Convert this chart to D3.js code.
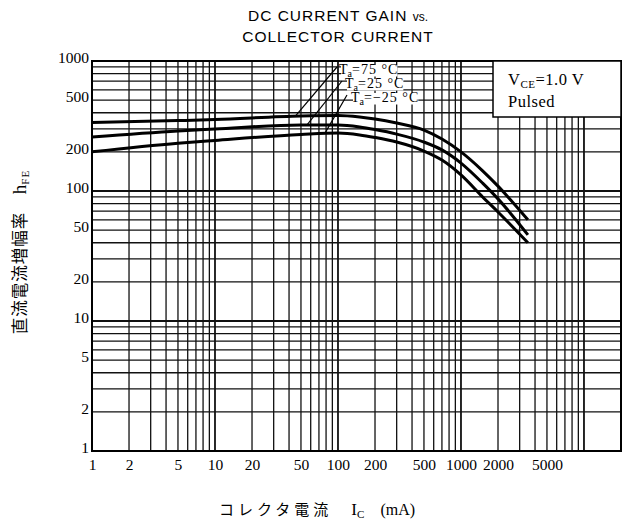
<!DOCTYPE html>
<html>
<head>
<meta charset="utf-8">
<script src="https://cdn.jsdelivr.net/npm/d3@7"></script>
<style>
  body { margin: 0; background: #fff; }
  svg { display: block; }
</style>
</head>
<body>
<svg id="chart" width="631" height="527"></svg>
<script>
// collector current (mA) where the curves were read
const icValues = [1, 5, 10, 50, 100, 150, 200, 300, 500, 700, 1000, 1500, 2000, 3500];
// hFE for each temperature
const hfe75 = [336, 348, 355, 378, 381, 371, 358, 333, 294, 251, 200, 143, 109, 60];
const hfe25 = [260, 290, 300, 322, 322, 311, 297, 274, 238, 207, 164, 115, 87, 46];
const hfeM25 = [200, 233, 245, 272, 279, 270, 258, 238, 203, 173, 133, 90, 69, 40];

const seriesNames = ['75', '25', '−25'];
// where each temperature leader touches its curve (mA)
const leaderAt = [45, 56, 78];

const xTicks = [1, 2, 5, 10, 20, 50, 100, 200, 500, 1000, 2000, 5000];
const yTicks = [1, 2, 5, 10, 20, 50, 100, 200, 500, 1000];

const margin = { top: 61, right: 10, bottom: 76, left: 92 };
const width = 631;
const height = 527;

const svg = d3.select('#chart');

const x = d3.scaleLog().domain([1, 20000]).range([margin.left, width - margin.right]);
const y = d3.scaleLog().domain([1, 1000]).range([height - margin.bottom, margin.top]);

const serif = 'Liberation Serif, DejaVu Serif, serif';

// log paper grid: 1..9 in every decade
const gridX = [];
for (let d = 1; d <= 10000; d *= 10) for (let k = 1; k <= 9; k++) if (d * k <= 20000) gridX.push(d * k);
const gridY = [];
for (let d = 1; d <= 100; d *= 10) for (let k = 1; k <= 9; k++) gridY.push(d * k);
gridY.push(1000);

const isDecade = (d) => Math.abs(Math.log10(d) % 1) < 1e-9;

const grid = svg.append('g').attr('class', 'grid');
grid
  .selectAll('line.v')
  .data(gridX)
  .join('line')
  .attr('class', 'v')
  .attr('x1', (d) => x(d))
  .attr('x2', (d) => x(d))
  .attr('y1', y(1))
  .attr('y2', y(1000))
  .attr('stroke', '#111')
  .attr('stroke-width', (d) => (isDecade(d) ? 1.8 : 1.3));

grid
  .selectAll('line.h')
  .data(gridY)
  .join('line')
  .attr('class', 'h')
  .attr('x1', x(1))
  .attr('x2', x(20000))
  .attr('y1', (d) => y(d))
  .attr('y2', (d) => y(d))
  .attr('stroke', '#111')
  .attr('stroke-width', (d) => (isDecade(d) ? 1.8 : 1.3));

// frame
svg
  .append('rect')
  .attr('x', x(1))
  .attr('y', y(1000))
  .attr('width', x(20000) - x(1))
  .attr('height', y(1) - y(1000))
  .attr('fill', 'none')
  .attr('stroke', '#000')
  .attr('stroke-width', 2);

// axes (labels only)
const xAxis = svg
  .append('g')
  .attr('transform', `translate(0,${y(1)})`)
  .call(d3.axisBottom(x).tickValues(xTicks).tickFormat(d3.format('d')).tickSize(0).tickPadding(8));
const yAxis = svg
  .append('g')
  .attr('transform', `translate(${x(1)},0)`)
  .call(d3.axisLeft(y).tickValues(yTicks).tickFormat(d3.format('d')).tickSize(0).tickPadding(3));
[xAxis, yAxis].forEach((g) => {
  g.select('.domain').remove();
  g.selectAll('text').attr('font-family', serif).attr('font-size', 15.5).attr('fill', '#000');
});
yAxis.selectAll('text').attr('dy', '0.1em');

// curves
const line = d3
  .line()
  .x((d) => x(d[0]))
  .y((d) => y(d[1]))
  .curve(d3.curveMonotoneX);

const series = [hfe75, hfe25, hfeM25].map((vals) => icValues.map((ic, i) => [ic, vals[i]]));

svg
  .append('g')
  .attr('class', 'curves')
  .selectAll('path')
  .data(series)
  .join('path')
  .attr('d', line)
  .attr('fill', 'none')
  .attr('stroke', '#000')
  .attr('stroke-width', 3);

// value of a curve at ic, log-log interpolation
const valueAt = (vals, ic) => {
  const lx = icValues.map(Math.log10);
  const i = Math.max(1, d3.bisectLeft(lx, Math.log10(ic)));
  const t = (Math.log10(ic) - lx[i - 1]) / (lx[i] - lx[i - 1]);
  return 10 ** (Math.log10(vals[i - 1]) + t * (Math.log10(vals[i]) - Math.log10(vals[i - 1])));
};

// temperature labels + leaders
const labelPos = [
  [339, 74, 337, 67],
  [345, 88, 342, 81],
  [351, 102, 347, 95]
];
const ann = svg.append('g').attr('class', 'temps');
// white backing under each label line, then leaders, then the texts
const backs = ann.append('g');
[hfe75, hfe25, hfeM25].forEach((vals, i) => {
  const [tx, ty, lx, ly] = labelPos[i];
  ann
    .append('line')
    .attr('x1', lx)
    .attr('y1', ly)
    .attr('x2', x(leaderAt[i]))
    .attr('y2', y(valueAt(vals, leaderAt[i])))
    .attr('stroke', '#000')
    .attr('stroke-width', 1.2);
});
const texts = [];
[hfe75, hfe25, hfeM25].forEach((vals, i) => {
  const [tx, ty] = labelPos[i];
  const t = ann
    .append('text')
    .attr('x', tx)
    .attr('y', ty)
    .attr('font-family', serif)
    .attr('font-size', 14)
    .attr('fill', '#000');
  t.append('tspan').text('T');
  t.append('tspan').attr('dy', 2.5).attr('font-size', 10).text('a');
  t.append('tspan').attr('dy', -2.5).attr('letter-spacing', 1).text(`=${seriesNames[i]}  °C`);
  texts.push(t);
});
texts.forEach((t) => {
  const b = t.node().getBBox();
  backs
    .append('rect')
    .attr('x', b.x + 2)
    .attr('y', b.y + 3)
    .attr('width', b.width - 3)
    .attr('height', b.height - 5)
    .attr('fill', '#fff');
});

// condition box
svg
  .append('rect')
  .attr('x', 493)
  .attr('y', y(1000))
  .attr('width', x(20000) - 493)
  .attr('height', 56)
  .attr('fill', '#fff')
  .attr('stroke', '#000')
  .attr('stroke-width', 1.5);
const cond = svg
  .append('text')
  .attr('x', 508)
  .attr('y', 85)
  .attr('font-family', serif)
  .attr('font-size', 16.5)
  .attr('letter-spacing', 0.5)
  .attr('fill', '#000');
cond.append('tspan').text('V');
cond.append('tspan').attr('dy', 3).attr('font-size', 11).text('CE');
cond.append('tspan').attr('dy', -3).text('=1.0 V');
svg
  .append('text')
  .attr('x', 508)
  .attr('y', 107)
  .attr('font-family', serif)
  .attr('font-size', 16.5)
  .attr('letter-spacing', 0.5)
  .attr('fill', '#000')
  .text('Pulsed');

// title
const title = svg
  .append('g')
  .attr('font-family', 'Liberation Sans, Arial, sans-serif')
  .attr('font-size', 15.5)
  .attr('letter-spacing', 1)
  .attr('text-anchor', 'middle')
  .attr('fill', '#000');
const t1 = title.append('text').attr('x', 338).attr('y', 21);
t1.append('tspan').text('DC CURRENT GAIN ');
t1.append('tspan').attr('font-size', 12).attr('letter-spacing', 0).text('vs.');
title.append('text').attr('x', 338).attr('y', 42).text('COLLECTOR CURRENT');

// axis titles
const yl = svg
  .append('text')
  .attr('transform', 'translate(26,252) rotate(-90)')
  .attr('text-anchor', 'middle')
  .attr('font-family', 'Noto Sans CJK JP, sans-serif')
  .attr('font-size', 16.5)
  .attr('letter-spacing', 1)
  .attr('fill', '#000');
yl.append('tspan').text('直流電流増幅率　');
yl.append('tspan').attr('font-family', serif).attr('font-size', 19).attr('letter-spacing', 0).text('h');
yl.append('tspan').attr('font-family', serif).attr('font-size', 11).attr('dy', 3).text('FE');

const xl = svg
  .append('text')
  .attr('x', 317)
  .attr('y', 515)
  .attr('text-anchor', 'middle')
  .attr('font-family', 'Noto Sans CJK JP, sans-serif')
  .attr('font-size', 15)
  .attr('fill', '#000');
xl.append('tspan').attr('letter-spacing', 4).text('コレクタ電流　');
xl.append('tspan').attr('font-family', serif).attr('font-size', 17).text('I');
xl.append('tspan').attr('font-family', serif).attr('font-size', 11).attr('dy', 3).text('C');
xl.append('tspan').attr('font-family', serif).attr('font-size', 16).attr('dy', -3).text('　(mA)');
</script>
</body>
</html>
